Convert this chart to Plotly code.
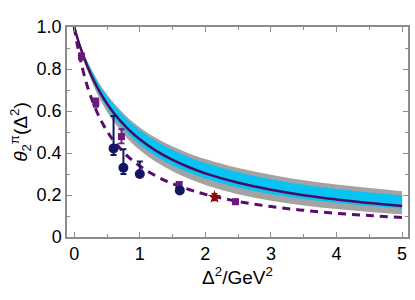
import plotly.graph_objects as go

# model curves
x_grid = [0, 0.05, 0.1, 0.2, 0.3, 0.4, 0.5, 0.6, 0.8, 1.0, 1.25, 1.5, 1.75, 2.0, 2.5, 3.0, 3.5, 4.0, 4.5, 5.0]
central = [1, 0.946, 0.897, 0.813, 0.744, 0.685, 0.635, 0.592, 0.521, 0.465, 0.410, 0.367, 0.332, 0.303, 0.258, 0.225, 0.199, 0.179, 0.162, 0.148]
gray_up = [1, .954, .912, .838, .776, .723, .678, .639, .574, .522, .471, .431, .398, .371, .328, .296, .270, .250, .233, .218]
gray_lo = [1, .940, .885, .793, .716, .651, .597, .550, .473, .414, .357, .313, .277, .248, .204, .173, .150, .133, .119, .108]
cyan_up = [1, .953, .910, .835, .772, .717, .670, .630, .562, .508, .455, .414, .380, .352, .308, .275, .249, .229, .212, .198]
cyan_lo = [1, .943, .892, .804, .732, .670, .617, .572, .498, .440, .384, .341, .307, .279, .236, .205, .181, .163, .148, .136]
dashed = [1, 0.911, 0.836, 0.718, 0.630, 0.560, 0.505, 0.459, 0.389, 0.338, 0.290, 0.254, 0.226, 0.203, 0.169, 0.145, 0.127, 0.113, 0.102, 0.093]

# data points
sq_x = [0.11, 0.33, 0.72, 1.60, 2.46]
sq_y = [0.86, 0.64, 0.478, 0.25, 0.168]
sq_eu = [0.015, 0.02, 0.035, 0.012, 0.01]
sq_ed = [0.015, 0.02, 0.032, 0.012, 0.01]

ci_x = [0.60, 0.75, 1.00, 1.61]
ci_y = [0.422, 0.33, 0.30, 0.222]
ci_eu = [0.154, 0.088, 0.059, 0.01]
ci_ed = [0.032, 0.03, 0.01, 0.01]

st_x = [2.14]
st_y = [0.19]
st_e = [0.015]

x_ticks = [0, 1, 2, 3, 4, 5]
y_ticks = [0, 0.2, 0.4, 0.6, 0.8, 1.0]
y_ticktext = ["0", "0.2", "0.4", "0.6", "0.8", "1.0"]

FONT = "Liberation Sans, Arial"

fig = go.Figure()
fig.add_trace(go.Scatter(x=x_grid, y=gray_up, mode="lines", line=dict(width=0, shape="spline"), showlegend=False, hoverinfo="skip"))
fig.add_trace(go.Scatter(x=x_grid, y=gray_lo, mode="lines", line=dict(width=0, shape="spline"), fill="tonexty", fillcolor="#a3a3a3", showlegend=False, hoverinfo="skip"))
fig.add_trace(go.Scatter(x=x_grid, y=cyan_up, mode="lines", line=dict(width=0, shape="spline"), showlegend=False, hoverinfo="skip"))
fig.add_trace(go.Scatter(x=x_grid, y=cyan_lo, mode="lines", line=dict(width=0, shape="spline"), fill="tonexty", fillcolor="#08c4f4", showlegend=False, hoverinfo="skip"))
fig.add_trace(go.Scatter(x=x_grid, y=central, mode="lines", line=dict(color="#4b0a60", width=2.5, shape="spline"), showlegend=False))
fig.add_trace(go.Scatter(x=x_grid, y=dashed, mode="lines", line=dict(color="#5a0c6c", width=3, dash="8px,6px", shape="spline"), showlegend=False))

fig.add_trace(go.Scatter(x=sq_x, y=sq_y, mode="markers",
                         marker=dict(symbol="square", size=7, color="#6b1a7b"),
                         error_y=dict(type="data", array=sq_eu, arrayminus=sq_ed, color="#6b1a7b", thickness=1.8, width=3),
                         showlegend=False))
fig.add_trace(go.Scatter(x=ci_x, y=ci_y, mode="markers",
                         marker=dict(symbol="circle", size=10, color="#121763"),
                         error_y=dict(type="data", array=ci_eu, arrayminus=ci_ed, color="#121763", thickness=2, width=3),
                         showlegend=False))
fig.add_trace(go.Scatter(x=st_x, y=st_y, mode="markers",
                         marker=dict(symbol="star", size=10, color="#8b0a0a"),
                         error_y=dict(type="data", array=st_e, color="#8b0a0a", thickness=1.8, width=3),
                         showlegend=False))

axis_common = dict(showline=True, linecolor="#8c8c8c", linewidth=1.5, mirror="ticks",
                   ticks="inside", ticklen=5, tickwidth=1, tickcolor="#8c8c8c",
                   showgrid=False, zeroline=False,
                   tickfont=dict(family=FONT, size=18, color="black"))

fig.update_xaxes(range=[-0.11, 5.09], tickvals=x_ticks,
                 minor=dict(ticks="inside", dtick=0.5, tick0=0, ticklen=3, tickcolor="#8c8c8c"),
                 title=dict(text="Δ<sup>2</sup>/GeV<sup>2</sup>", font=dict(family=FONT, size=19, color="black"), standoff=6),
                 **axis_common)
fig.update_yaxes(range=[0, 1.0], tickvals=y_ticks, ticktext=y_ticktext,
                 minor=dict(ticks="inside", dtick=0.1, tick0=0, ticklen=3, tickcolor="#8c8c8c"),
                 title=dict(text="<i>θ</i><sub>2</sub><sup>π</sup>(Δ<sup>2</sup>)", font=dict(family=FONT, size=19, color="black"), standoff=4),
                 **axis_common)

fig.update_layout(width=415, height=300, margin=dict(l=67, r=5, t=27, b=63),
                  plot_bgcolor="white", paper_bgcolor="white")
fig.write_html("out.html", config={"displayModeBar": False})

# remove default page margin so the figure sits at the window origin
with open("out.html", "r", encoding="utf-8") as f:
    html = f.read()
html = html.replace("<head>", "<head><style>html,body{margin:0;padding:0;overflow:hidden;}</style>", 1)
with open("out.html", "w", encoding="utf-8") as f:
    f.write(html)
